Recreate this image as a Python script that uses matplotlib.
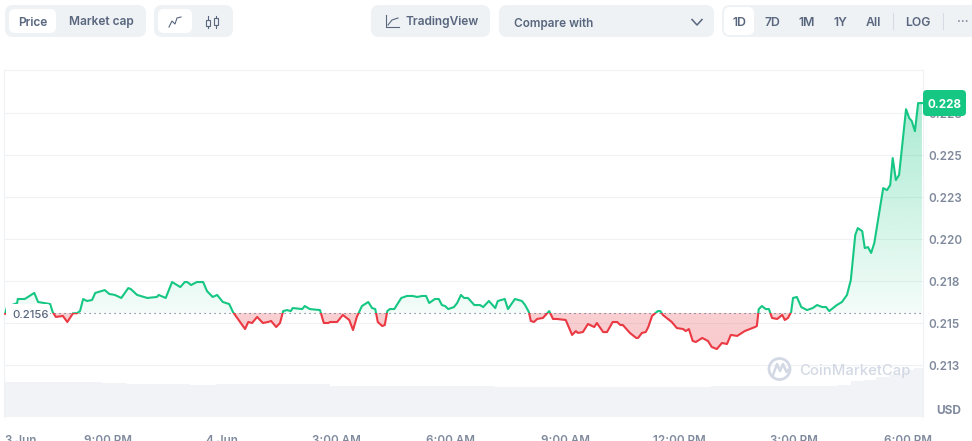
import numpy as np
import matplotlib
matplotlib.use("Agg")
import matplotlib.pyplot as plt
from matplotlib.patches import FancyBboxPatch, Circle
from matplotlib.path import Path

plt.rcParams['font.family'] = ['Inter', 'DejaVu Sans']

# minutes after 6 PM on 3 Jun
time_min = [18,21,37,38,49,64,70,89,93,98,109,116,125,131,136,141,147,155,160,175,182,191,201,212,216,226,242,257,260,271,281,294,301,305,311,320,330,336,345,352,361,371,377,396,401,407,415,424,432,437,445,451,456,462,468,471,486,490,498,514,520,527,
 530,541,550,560,566,572,580,590,596,601,605,612,616,620,624,631,642,651,660,667,675,681,686,695,701,706,711,716,725,730,736,741,747,757,766,771,780,790,794,805,810,821,832,837,843,846,851,856,865,875,881,887,901,911,917,920,928,936,946,950,960,966,975,982,987,991,1002,1012,1015,1021,1027,1031,1037,1046,
 1050,1054,1068,1076,1086,1090,1095,1101,1106,1116,1125,1131,1139,1147,1155,1161,1171,1183,1199,1202,1205,1210,1216,1221,1226,1234,1242,1246,1251,1256,1259,1265,1272,1281,1290,1297,1305,1311,1316,1328,1336,1344,1350,1357,1361,1368,1372,1377,1382,1387,1401,1407,1412,1416,1421,1426,1437,1442,1446,1451,1456,1462]
price = [.21555,.21595,.21619,.21643,.21643,.21679,.21625,.21613,.21565,.21536,.21542,.21506,.21558,.21558,.21571,.21643,.21631,.21637,.21679,.21696,.21673,.21667,.21649,.21708,.21702,.21667,.21649,.21655,.21667,.21649,.21744,.21714,.21744,.21744,.21726,.21744,.21744,.21690,.21655,.21667,.21625,.21613,.21565,.21464,.21506,.215,.21536,.215,.21506,.21512,.21476,.215,.21571,.21577,.21571,.21589,.21583,.21601,.21583,.21577,.215,.215,
 .21506,.21506,.21548,.21518,.21458,.21536,.21601,.21625,.21589,.21583,.21506,.21482,.21488,.21571,.21583,.21583,.21649,.21661,.21661,.21655,.21661,.21661,.21619,.21643,.21643,.21607,.21601,.21583,.21595,.21619,.21667,.21649,.21649,.21607,.21607,.21595,.21631,.21589,.21631,.21643,.21583,.21643,.21631,.21607,.21565,.21512,.21506,.21524,.21530,.21571,.21524,.21524,.21518,.21429,.21452,.21441,.21446,.21494,.21476,.215,.21446,.21446,.21506,.21506,.21488,.21488,.21441,.21411,.21411,.21441,.21446,.21476,.21542,.21571,
 .21571,.21548,.21506,.21470,.21464,.21452,.21464,.21393,.21387,.21411,.21393,.21357,.21345,.21381,.21375,.21429,.21423,.21452,.21476,.21482,.21583,.21601,.21583,.21583,.21530,.21524,.21548,.21518,.21530,.21565,.21649,.21655,.21595,.21577,.21589,.21607,.21595,.21595,.21571,.21607,.21625,.21667,.21756,.22024,.22065,.22047,.21946,.21952,.21917,.21976,.22303,.22291,.22321,.22482,.22351,.22381,.22773,.22720,.22702,.22642,.22809,.22809]
baseline = 0.2156

# 20-minute volume, arbitrary units
volume = [35,35,35,35,35,35,35,35,34,34,33,33,33,33,33,32.5,32.5,33,33,33,33,33,33,33,33,33,
 31,31,31,31,31,31,31,31,31,31,31,31,31,
 30,30,30,30,30,30,30,30,30,30,30,30,30,30,30,30,30,
 31,31,31,31,31,31,31,31,31,31,32,36,37,40,43,47,49]
volume_time = list(range(20, 1461, 20))

y_ticks = [0.2125, 0.215, 0.2175, 0.22, 0.2225, 0.225, 0.2275]
y_labels = ['0.213', '0.215', '0.218', '0.220', '0.223', '0.225', '0.228']
x_ticks = [43, 180, 360, 540, 720, 900, 1080, 1260, 1440]
x_labels = ['3 Jun', '9:00 PM', '4 Jun', '3:00 AM', '6:00 AM', '9:00 AM', '12:00 PM', '3:00 PM', '6:00 PM']
range_buttons = ['1D', '7D', '1M', '1Y', 'All']

W, H = 972, 441
GREEN, RED = '#16c784', '#ea3943'
TEXT, MUTED, PANEL, GRID = '#58667e', '#808a9d', '#eff2f5', '#eff2f5'

fig = plt.figure(figsize=(W/100, H/100), dpi=100, facecolor='white')
L, R, T, B = 4, 923, 70, 417
rect = [L/W, 1-B/H, (R-L)/W, (B-T)/H]

# volume
axv = fig.add_axes(rect, zorder=1)
axv.bar(volume_time, volume, width=20, color='#f1f3f6', linewidth=0)
axv.set_xlim(16.3, 1463.7)
axv.set_ylim(0, B-T)
axv.axis('off')

# price
ax = fig.add_axes(rect, zorder=2)
ax.patch.set_alpha(0)
ax.set_xlim(16.3, 1463.7)
ax.set_ylim(0.209405, 0.23006)
t = np.array(time_min, float)
p = np.array(price, float)

ax.set_yticks(y_ticks, y_labels)
ax.set_xticks(x_ticks, x_labels)
ax.yaxis.tick_right()
ax.grid(axis='y', color=GRID, lw=0.8)
ax.set_axisbelow(True)
ax.tick_params(axis='y', length=0, pad=4.2, labelsize=8.4, labelcolor=MUTED)
ax.tick_params(axis='x', length=0, pad=13.2, labelsize=8.4, labelcolor=MUTED)
for lab in ax.get_yticklabels() + ax.get_xticklabels():
    lab.set_fontweight('semibold')
for s in ['top', 'left', 'right']:
    ax.spines[s].set_color(GRID)
    ax.spines[s].set_linewidth(0.8)
ax.spines['bottom'].set_visible(False)

def gradient_fill(where, color, a_base, a_far, far):
    coll = ax.fill_between(t, p, baseline, where=where, interpolate=True, color='none', lw=0)
    clip = Path.make_compound_path(*coll.get_paths())
    n = 256
    rgba = np.zeros((n, 1, 4))
    rgba[..., :3] = matplotlib.colors.to_rgb(color)
    rgba[:, 0, 3] = np.linspace(a_far, a_base, n)
    lo, hi = (baseline, far) if far > baseline else (far, baseline)
    if far < baseline:
        rgba = rgba[::-1]
    im = ax.imshow(rgba, extent=[t[0], t[-1], lo, hi], origin='upper', aspect='auto',
                   interpolation='bilinear', zorder=1.5)
    im.set_clip_path(clip, transform=ax.transData)

gradient_fill(p >= baseline, GREEN, 0.05, 0.36, 0.2281)
gradient_fill(p <= baseline, RED, 0.24, 0.27, 0.2134)
ax.set_xlim(16.3, 1463.7)
ax.set_ylim(0.209405, 0.23006)

ax.axhline(baseline, color=TEXT, lw=0.8, ls=(0, (1, 3.5)), zorder=2)
xl = ax.get_xlim(); yl = ax.get_ylim()
up, = ax.plot(t, p, color=GREEN, lw=1.5, zorder=3, solid_joinstyle='round')
dn, = ax.plot(t, p, color=RED, lw=1.5, zorder=3, solid_joinstyle='round')
up.set_clip_path(matplotlib.patches.Rectangle((xl[0], baseline), xl[1]-xl[0], yl[1]-baseline, transform=ax.transData))
dn.set_clip_path(matplotlib.patches.Rectangle((xl[0], yl[0]), xl[1]-xl[0], baseline-yl[0], transform=ax.transData))

# interface layer in pixels
ui = fig.add_axes([0, 0, 1, 1], zorder=5)
ui.set_xlim(0, W); ui.set_ylim(H, 0); ui.axis('off'); ui.patch.set_alpha(0)

def box(x0, y0, x1, y1, color, r=8, z=1):
    ui.add_patch(FancyBboxPatch((x0+r, y0+r), x1-x0-2*r, y1-y0-2*r,
                                boxstyle=f'round,pad={r},rounding_size={r}',
                                fc=color, ec='none', zorder=z))

def label(x, y, s, size=8.6, color=TEXT, weight='semibold', ha='center'):
    ui.text(x, y, s, fontsize=size, color=color, fontweight=weight, ha=ha, va='center_baseline', zorder=4)

box(5, 5, 146, 37, PANEL)
box(9, 9, 56, 33, 'white', 6, 2)
label(33, 21, 'Price'); label(101, 21, 'Market cap')
box(154, 5, 233, 37, PANEL)
box(158, 9, 192, 33, 'white', 6, 2)
ui.plot([169, 172, 175, 177, 181], [27, 21, 24, 18, 17], color=TEXT, lw=0.8, zorder=3)
for cx, a, b, c, d in [(208, 15.5, 20, 26, 28), (216, 15.5, 18, 25, 28)]:
    ui.plot([cx, cx], [a, b], color=TEXT, lw=0.8, zorder=3)
    ui.plot([cx, cx], [c, d], color=TEXT, lw=0.8, zorder=3)
    ui.add_patch(plt.Rectangle((cx-2.2, b), 4.4, c-b, fc='none', ec=TEXT, lw=0.8, zorder=3))
box(371, 5, 490, 37, PANEL)
ui.plot([385.5, 385.5, 399], [15, 27, 27], color=TEXT, lw=0.8, zorder=3)
ui.plot([388, 392, 398], [25, 20, 18], color=TEXT, lw=0.8, zorder=3)
label(442, 21, 'TradingView')
box(499, 5, 714, 37, PANEL)
label(514, 22, 'Compare with', size=8.5, ha='left')
ui.plot([692, 697, 702], [19.5, 25, 19.5], color=TEXT, lw=1.1, zorder=3)
box(722, 5, 985, 37, PANEL)
box(724, 7, 754, 35, 'white', 6, 2)
for x, s in zip([739, 772, 807, 840, 873], range_buttons):
    label(x, 21.5, s, size=8.8)
ui.plot([893, 893], [13, 29], color='#d5dae3', lw=0.8, zorder=3)
label(918, 21.5, 'LOG', size=8.8)
ui.plot([943, 943], [13, 29], color='#d5dae3', lw=0.8, zorder=3)
label(963, 20, '···', color=MUTED)

# baseline label and current price
box(6, 304, 50, 323, 'white', 3, 6)
ui.text(12, 314, '0.2156', fontsize=8.2, color=TEXT, va='center_baseline', fontweight='medium', zorder=7)
box(923, 90, 966, 116, GREEN, 4, 6)
ui.text(944.5, 103, '0.228', fontsize=8.4, color='white', fontweight='bold', ha='center', va='center_baseline', zorder=7)
ui.text(949, 410, 'USD', fontsize=8.6, color=MUTED, fontweight='bold', ha='center', va='center_baseline', zorder=7)

# watermark
WM = '#d3d9e4'
ui.add_patch(Circle((779.5, 369), 10.5, fc='none', ec=WM, lw=2, zorder=3))
ui.plot([773, 777, 780, 783, 786.5, 788], [375, 364, 371, 364, 372, 370], color=WM, lw=1.8, zorder=3)
ui.text(799, 370, 'CoinMarketCap', fontsize=10.7, color=WM, fontweight='medium', va='center_baseline', zorder=3)

fig.savefig('out.png', dpi=100)
